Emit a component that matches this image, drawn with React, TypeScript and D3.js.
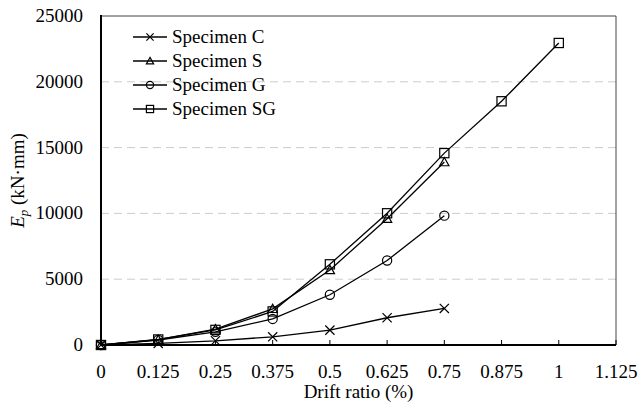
import React from "react";
import * as d3 from "d3";

// drift ratio (%) at each loading level
const drift = [0, 0.125, 0.25, 0.375, 0.5, 0.625, 0.75, 0.875, 1];
const specC = [0, 120, 320, 620, 1130, 2070, 2780];
const specS = [0, 400, 1200, 2750, 5700, 9600, 13900];
const specG = [0, 380, 1000, 1980, 3820, 6420, 9830];
const specSG = [0, 420, 1150, 2550, 6130, 10010, 14580, 18520, 22950];

const xTicks = [0, 0.125, 0.25, 0.375, 0.5, 0.625, 0.75, 0.875, 1, 1.125];
const yTicks = [0, 5000, 10000, 15000, 20000, 25000];

const series = [
  { name: "Specimen C", values: specC, marker: "x" },
  { name: "Specimen S", values: specS, marker: "tri" },
  { name: "Specimen G", values: specG, marker: "circle" },
  { name: "Specimen SG", values: specSG, marker: "square" },
];

const W = 640;
const H = 405;
const m = { left: 101, right: 24, top: 16, bottom: 60 };

const Marker = ({ type, x, y, s }: { type: string; x: number; y: number; s: number }) => {
  const st = { fill: "none", stroke: "#000", strokeWidth: 1.2 };
  if (type === "x")
    return <path d={`M${x - s},${y - s}L${x + s},${y + s}M${x - s},${y + s}L${x + s},${y - s}`} {...st} />;
  if (type === "tri")
    return <path d={`M${x},${y - s}L${x + s},${y + s * 0.8}L${x - s},${y + s * 0.8}Z`} {...st} />;
  if (type === "circle") return <circle cx={x} cy={y} r={s} {...st} />;
  return <rect x={x - s} y={y - s} width={2 * s} height={2 * s} {...st} />;
};

export default function App() {
  const x = d3.scaleLinear().domain([0, 1.125]).range([m.left, W - m.right]);
  const y = d3.scaleLinear().domain([0, 25000]).range([H - m.bottom, m.top]);
  const line = d3
    .line<number>()
    .x((_, i) => x(drift[i]))
    .y((d) => y(d));

  const font = "'Liberation Serif', 'Times New Roman', serif";

  return (
    <svg width={W} height={H} style={{ position: "absolute", left: 0, top: 0, background: "#fff", fontFamily: font }}>
      {/* grid */}
      {yTicks.slice(1, -1).map((t) => (
        <line key={t} x1={x(0)} x2={x(1.125)} y1={y(t)} y2={y(t)} stroke="#ccc" strokeDasharray="8,5" />
      ))}
      {/* frame */}
      <line x1={x(0)} x2={x(1.125)} y1={y(25000)} y2={y(25000)} stroke="#444" strokeWidth={1} />
      <line x1={x(1.125)} x2={x(1.125)} y1={y(25000)} y2={y(0)} stroke="#444" strokeWidth={1} />
      {/* x ticks */}
      {xTicks.map((t) => (
        <g key={t}>
          <line x1={x(t)} x2={x(t)} y1={y(0)} y2={y(0) - 5} stroke="#000" />
          <text x={x(t)} y={y(0) + 33} textAnchor="middle" fontSize={19}>
            {t}
          </text>
        </g>
      ))}
      {yTicks.map((t) => (
        <text key={t} x={83} y={y(t) + 6} textAnchor="end" fontSize={19}>
          {t}
        </text>
      ))}
      <line x1={x(0)} x2={x(1.125)} y1={y(0)} y2={y(0)} stroke="#000" strokeWidth={2} />
      <line x1={x(0)} x2={x(0)} y1={y(0) + 1} y2={y(25000) - 1} stroke="#000" strokeWidth={2} />
      {/* series */}
      {series.map((s) => (
        <g key={s.name}>
          <path d={line(s.values) || ""} fill="none" stroke="#000" strokeWidth={1.3} />
          {s.values.map((v, i) => (
            <Marker key={i} type={s.marker} x={x(drift[i])} y={y(v)} s={4.6} />
          ))}
        </g>
      ))}
      {/* legend */}
      {series.map((s, i) => (
        <g key={s.name} transform={`translate(0,${37 + i * 24})`}>
          <line x1={133} x2={167} y1={0} y2={0} stroke="#000" strokeWidth={1.3} />
          <Marker type={s.marker} x={150} y={0} s={3.6} />
          <text x={172} y={6} fontSize={19}>
            {s.name}
          </text>
        </g>
      ))}
      {/* axis titles */}
      <text x={(x(0) + x(1.125)) / 2} y={398} textAnchor="middle" fontSize={19}>
        Drift ratio (%)
      </text>
      <text transform={`translate(24,${(y(0) + y(25000)) / 2}) rotate(-90)`} textAnchor="middle" fontSize={19}>
        <tspan fontStyle="italic">E</tspan>
        <tspan fontStyle="italic" fontSize={13} dy={4}>p</tspan>
        <tspan dy={-4}> (kN·mm)</tspan>
      </text>
    </svg>
  );
}
